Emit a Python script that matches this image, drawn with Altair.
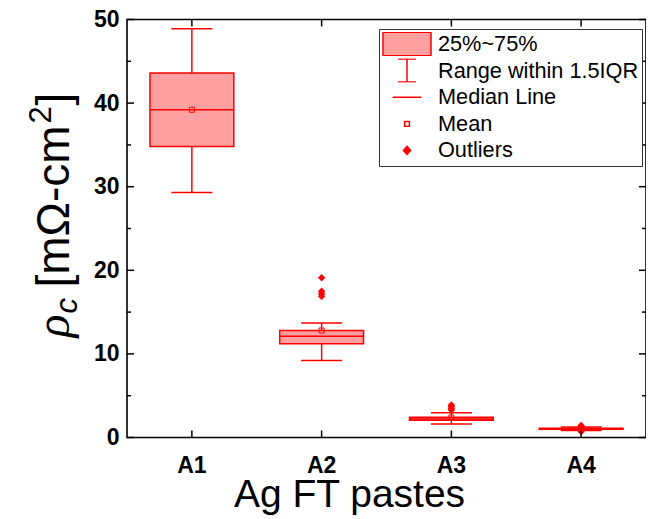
import altair as alt
import pandas as pd

# ---------------- data ----------------
categories = ["A1", "A2", "A3", "A4"]
q1 = [34.8, 11.2, 2.05, 0.98]
q3 = [43.6, 12.8, 2.42, 1.12]
median = [39.2, 12.1, 2.2, 1.06]
mean = [39.2, 12.8, 2.4, 1.10]
whisker_lo = [29.3, 9.2, 1.6, 0.85]
whisker_hi = [48.9, 13.7, 2.95, 1.25]

outlier_cat = ["A2", "A2", "A2", "A2", "A3", "A3", "A3", "A3", "A4", "A4", "A4"]
outlier_val = [19.1, 17.5, 17.2, 16.9, 3.9, 3.7, 3.5, 3.3, 1.35, 1.45, 0.70]

y_major = [0, 10, 20, 30, 40, 50]
y_minor = [5, 15, 25, 35, 45]

legend_labels = ["25%~75%", "Range within 1.5IQR", "Median Line", "Mean", "Outliers"]

ytitle_sym = ["ρ"]
ytitle_sub = ["c"]
ytitle_unit = ["[mΩ-cm"]
ytitle_sup = ["2"]
ytitle_close = ["]"]
xtitle = "Ag FT pastes"

# ---------------- style ----------------
W, H = 519, 418
RED = "#ff0000"
FILL = "#ffa0a0"
FONT = "Liberation Sans"

box_df = pd.DataFrame(dict(cat=categories, q1=q1, q3=q3, median=median,
                           mean=mean, lo=whisker_lo, hi=whisker_hi))
out_df = pd.DataFrame(dict(cat=outlier_cat, val=outlier_val))
major_df = pd.DataFrame({"v": y_major})
minor_df = pd.DataFrame({"v": y_minor})
leg_df = pd.DataFrame({"item": legend_labels})

xscale = alt.Scale(domain=categories, paddingInner=0.354, paddingOuter=0.177)
yscale = alt.Scale(domain=[0, 50], nice=False, zero=False)

xaxis = alt.Axis(title=xtitle, labelFont=FONT, labelFontSize=23, labelFontWeight="bold",
                 labelColor="black", labelPadding=17, labelAngle=0, ticks=False, tickSize=0,
                 domain=False, grid=False, titleFont=FONT, titleFontSize=39,
                 titleFontWeight="normal", titleColor="black", titleX=222, titleY=69,
                 titleAlign="center", titleBaseline="alphabetic")
yaxis = alt.Axis(title=None, values=y_major, labelFont=FONT, labelFontSize=23,
                 labelFontWeight="bold", labelColor="black", labelPadding=8,
                 ticks=False, tickSize=0, domain=False, grid=False)


def X(field="cat"):
    return alt.X(f"{field}:N", scale=xscale, axis=xaxis, sort=categories)


def Y(field):
    return alt.Y(f"{field}:Q", scale=yscale, axis=yaxis)


base = alt.Chart(box_df)
stems = base.mark_rule(color=RED, strokeWidth=1.5).encode(x=X(), y=Y("lo"), y2="hi")
boxes = base.mark_bar(fill=FILL, stroke=RED, strokeWidth=1.5).encode(x=X(), y=Y("q1"), y2="q3")
medians = base.mark_tick(color=RED, thickness=1.5, size=84, opacity=1).encode(x=X(), y=Y("median"))
cap_hi = base.mark_tick(color=RED, thickness=1.5, size=41, opacity=1).encode(x=X(), y=Y("hi"))
cap_lo = base.mark_tick(color=RED, thickness=1.5, size=41, opacity=1).encode(x=X(), y=Y("lo"))
means = base.mark_point(shape="square", filled=False, color=RED, size=25, strokeWidth=1,
                        opacity=1).encode(x=X(), y=Y("mean"))
outs = alt.Chart(out_df).mark_point(shape="diamond", filled=True, color=RED, size=55,
                                    opacity=1).encode(x=X(), y=Y("val"))

# inward axis ticks
TK = dict(color="black", strokeWidth=1.5)
lt_major = alt.Chart(major_df).mark_rule(**TK).encode(y=Y("v"), x=alt.value(0), x2=alt.value(7))
rt_major = alt.Chart(major_df).mark_rule(**TK).encode(y=Y("v"), x=alt.value(W - 7), x2=alt.value(W))
lt_minor = alt.Chart(minor_df).mark_rule(**TK).encode(y=Y("v"), x=alt.value(0), x2=alt.value(4))
rt_minor = alt.Chart(minor_df).mark_rule(**TK).encode(y=Y("v"), x=alt.value(W - 4), x2=alt.value(W))
bt_ticks = base.mark_rule(**TK).encode(x=X(), y=alt.value(H - 7), y2=alt.value(H))
tp_ticks = base.mark_rule(**TK).encode(x=X(), y=alt.value(0), y2=alt.value(7))

# legend (carrier points are clipped away; only the legend shows)
shape_paths = [
    "M-1,-0.49H1V0.49H-1Z",
    "M-0.375,-0.48H0.375M0,-0.48V0.48M-0.375,0.48H0.375",
    "M-0.6,0H0.6",
    "M-0.1,-0.1H0.1V0.1H-0.1Z",
    "M0,-0.17L0.15,0L0,0.17L-0.15,0Z",
]
fill_colors = [FILL, "transparent", "transparent", "white", RED]
stroke_colors = [RED, RED, RED, RED, RED]
leg = alt.Legend(title=None, orient="none", legendX=252, legendY=9.5, padding=3,
                 strokeColor="#333", fillColor="white", labelFont=FONT, labelFontSize=21.7,
                 labelColor="black", labelLimit=400, labelOffset=6, symbolSize=2304,
                 symbolStrokeWidth=1.5, symbolStrokeColor=RED, symbolOffset=0,
                 clipHeight=24, rowPadding=2.6, symbolOpacity=1)
legend_layer = alt.Chart(leg_df).mark_point(clip=True, opacity=1, strokeWidth=1.5,
                                            size=2304).encode(
    x=alt.value(-300), y=alt.value(-300),
    shape=alt.Shape("item:N", scale=alt.Scale(domain=legend_labels, range=shape_paths), legend=leg),
    fill=alt.Fill("item:N", scale=alt.Scale(domain=legend_labels, range=fill_colors), legend=leg),
    stroke=alt.Stroke("item:N", scale=alt.Scale(domain=legend_labels, range=stroke_colors), legend=leg),
)

# y title pieces (rotated, reading bottom to top)
TXT = dict(angle=270, align="left", baseline="alphabetic", color="black")
t_sym = alt.Chart(pd.DataFrame({"t": ytitle_sym})).mark_text(
    font="Liberation Serif", fontStyle="italic", fontSize=48, **TXT).encode(
    text="t:N", x=alt.value(-58), y=alt.value(318))
t_sub = alt.Chart(pd.DataFrame({"t": ytitle_sub})).mark_text(
    font=FONT, fontStyle="italic", fontSize=31, **TXT).encode(
    text="t:N", x=alt.value(-50), y=alt.value(294))
t_unit = alt.Chart(pd.DataFrame({"t": ytitle_unit})).mark_text(
    font=FONT, fontSize=46, **TXT).encode(
    text="t:N", x=alt.value(-58), y=alt.value(268))
t_sup = alt.Chart(pd.DataFrame({"t": ytitle_sup})).mark_text(
    font=FONT, fontSize=31, **TXT).encode(
    text="t:N", x=alt.value(-76), y=alt.value(104))
t_close = alt.Chart(pd.DataFrame({"t": ytitle_close})).mark_text(
    font=FONT, fontSize=46, **TXT).encode(
    text="t:N", x=alt.value(-58), y=alt.value(86))

chart = alt.layer(
    stems, boxes, medians, cap_hi, cap_lo, means, outs,
    lt_major, rt_major, lt_minor, rt_minor, bt_ticks, tp_ticks,
    legend_layer, t_sym, t_sub, t_unit, t_sup, t_close,
).properties(
    width=W, height=H,
    padding={"left": 119, "top": 11.5, "right": 0, "bottom": 80},
    autosize=alt.AutoSizeParams(type="none"),
    background="white",
).configure_view(
    stroke="black", strokeWidth=1.6
).configure_legend(
    strokeWidth=1
)

chart.save("out.html", embed_options={"renderer": "svg", "actions": False})
